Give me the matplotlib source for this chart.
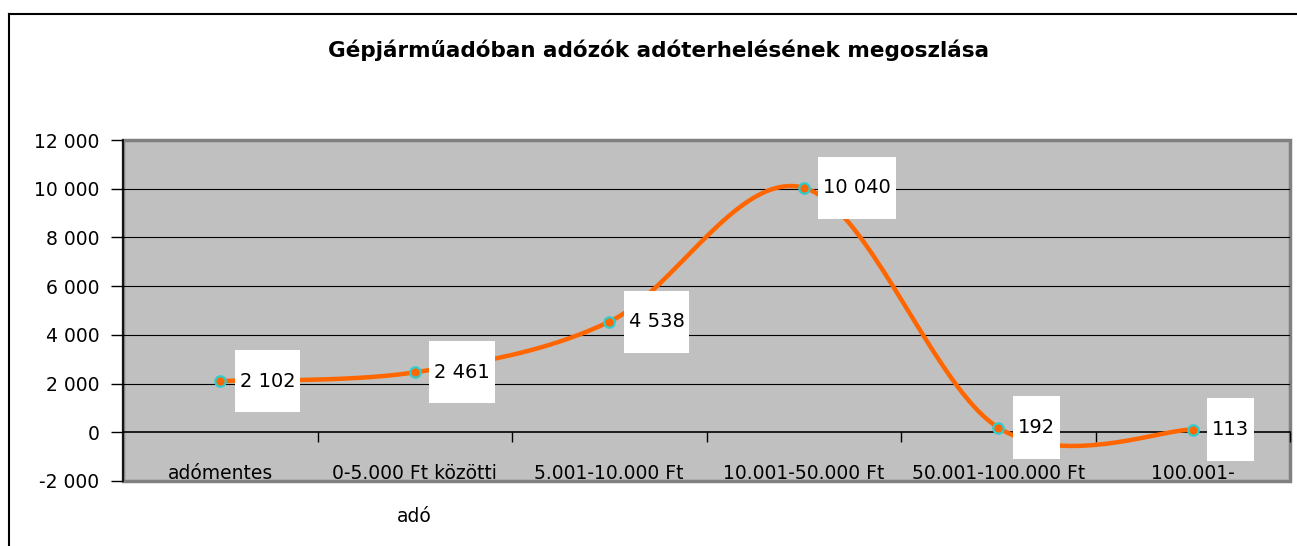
import numpy as np
import matplotlib.pyplot as plt
from matplotlib.patches import Rectangle
from matplotlib.lines import Line2D

plt.rcParams['font.family'] = ['DejaVu Sans']

# chart data
categories = ["adómentes", "0-5.000 Ft közötti\nadó", "5.001-10.000 Ft",
              "10.001-50.000 Ft", "50.001-100.000 Ft", "100.001-"]
values = [2102, 2461, 4538, 10040, 192, 113]
value_labels = ["2 102", "2 461", "4 538", "10 040", "192", "113"]
y_ticks = [-2000, 0, 2000, 4000, 6000, 8000, 10000, 12000]
y_tick_labels = ["-2 000", "0", "2 000", "4 000", "6 000", "8 000", "10 000", "12 000"]
title = "Gépjárműadóban adózók adóterhelésének megoszlása"


def smooth(xs, ys, n=40):
    # Excel-like smoothed line (Catmull-Rom as cubic Bezier segments)
    pts = np.column_stack([xs, ys]).astype(float)
    padded = np.vstack([pts[0], pts, pts[-1]])
    out = []
    t = np.linspace(0, 1, n)[:, None]
    for i in range(len(pts) - 1):
        p0, p1, p2, p3 = padded[i], padded[i + 1], padded[i + 2], padded[i + 3]
        c1 = p1 + (p2 - p0) / 6
        c2 = p2 - (p3 - p1) / 6
        seg = (1 - t)**3 * p1 + 3 * (1 - t)**2 * t * c1 + 3 * (1 - t) * t**2 * c2 + t**3 * p2
        out.append(seg if i == 0 else seg[1:])
    return np.vstack(out)


W, H = 1297, 546
fig = plt.figure(figsize=(W / 100, H / 100), dpi=100)
fig.patch.set_facecolor('white')

# chart area frame (cropped on right and bottom)
fig.add_artist(Line2D([9 / W, 1.0], [1 - 14 / H, 1 - 14 / H], color='black', lw=1.5))
fig.add_artist(Line2D([9 / W, 9 / W], [0.0, 1 - 14 / H], color='black', lw=1.5))

fig.text(659 / W, 1 - 50 / H, title, ha='center', va='center',
         fontsize=15.5, fontweight='bold')

ax = fig.add_axes([123 / W, 1 - 481 / H, (1290 - 123) / W, (481 - 140) / H])
ax.set_facecolor('#C0C0C0')

x = np.arange(len(categories))
ax.set_xlim(-0.5, len(categories) - 0.5)
ax.set_ylim(-2000, 12000)

for yv in y_ticks[2:-1]:
    ax.axhline(yv, color='black', lw=0.8, zorder=1)

# plot area border
ax.add_patch(Rectangle((0, 0), 1, 1, transform=ax.transAxes, fill=False,
                       edgecolor='#808080', lw=2.5, zorder=0.5, clip_on=False))
for s in ['top', 'right']:
    ax.spines[s].set_visible(False)
ax.spines['left'].set_color('black')
ax.spines['left'].set_linewidth(1.2)
ax.spines['bottom'].set_position(('data', 0))
ax.spines['bottom'].set_color('black')
ax.spines['bottom'].set_linewidth(1.2)

ax.set_yticks(y_ticks)
ax.set_yticklabels(y_tick_labels, fontsize=13.5)
ax.tick_params(axis='y', direction='out', length=9, width=1, pad=8)

ax.set_xticks(x)
ax.set_xticklabels(categories, fontsize=13.5, linespacing=2.6)
ax.set_xticks(np.arange(0.5, len(categories), 1.0), minor=True)
ax.tick_params(axis='x', which='major', length=0, pad=23)
ax.tick_params(axis='x', which='minor', direction='out', length=7, width=1)

curve = smooth(x, values)
ax.plot(curve[:, 0], curve[:, 1], color='#FF6600', lw=3.2, zorder=3,
        solid_capstyle='round')
ax.plot(x, values, linestyle='none', marker='o', markersize=7.5,
        markerfacecolor='#FF6600', markeredgecolor='#33CCCC',
        markeredgewidth=1.6, zorder=4)

for xi, v, lab in zip(x, values, value_labels):
    ax.annotate("\n" + lab + "\n", (xi, v), xytext=(14, 0), textcoords='offset points',
                ha='left', va='center', fontsize=14, linespacing=0.85, zorder=5,
                bbox=dict(boxstyle='square,pad=0.25', fc='white', ec='none'))

fig.savefig('out.png', dpi=100)
